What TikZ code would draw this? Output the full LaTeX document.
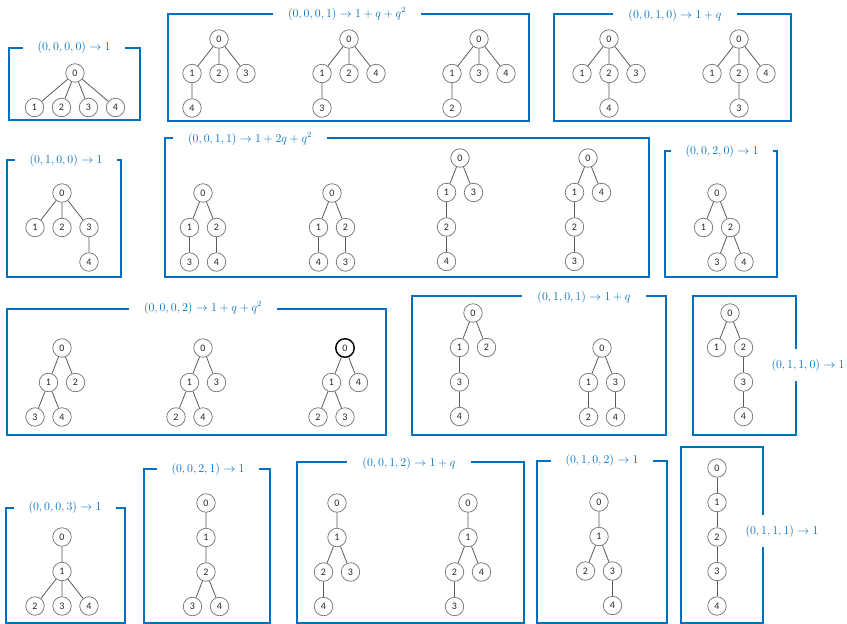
\documentclass[tikz,border=0pt]{standalone}
\usepackage{fontspec}
\setsansfont{Carlito}
\usepackage{tikz}
\usetikzlibrary{positioning}
\definecolor{OfficeBlue}{RGB}{0,112,192}
\tikzset{
  vtx/.style={circle, draw=black!55, line width=0.7pt, minimum size=18.5pt, inner sep=0pt, fill=white,
    font=\sffamily\fontsize{10}{10}\selectfont, text=black!85},
  rootvtx/.style={vtx, draw=black, line width=1.4pt},
  link/.style={draw=black!65, line width=0.8pt},
  grp/.style={draw=OfficeBlue, line width=2.5pt},
  tag/.style={fill=white, text=OfficeBlue, inner xsep=15pt, inner ysep=2pt, font=\fontsize{11.5}{13}\selectfont},
  sidetag/.style={tag, inner xsep=2pt, inner ysep=10pt},
}

\begin{document}
\begin{tikzpicture}[x=1pt, y=-1pt, node distance=34.5pt and 13.5pt, on grid]
\useasboundingbox (0,0) rectangle (847,624);

% frames
\draw[grp] (9,48) rectangle (140,120);
\draw[grp] (168,14) rectangle (529,121);
\draw[grp] (554,14) rectangle (791,121);
\draw[grp] (7,160) rectangle (121,277);
\draw[grp] (165,138) rectangle (649,277);
\draw[grp] (665,151) rectangle (777,277);
\draw[grp] (7,309) rectangle (386,435);
\draw[grp] (412,296) rectangle (666,435);
\draw[grp] (693,296) rectangle (796,435);
\draw[grp] (6,508) rectangle (125,623);
\draw[grp] (144,469) rectangle (270,623);
\draw[grp] (297,462) rectangle (524,623);
\draw[grp] (537,461) rectangle (667,623);
\draw[grp] (681,447) rectangle (763,623);

% labels
\node[tag] (l1) at (74,47) {$(0,0,0,0)\to 1$};
\node[tag] (l2) at (347,14) {$(0,0,0,1)\to 1+q+q^2$};
\node[tag] (l3) at (675,15) {$(0,0,1,0)\to 1+q$};
\node[tag] (l4) at (66,160) {$(0,1,0,0)\to 1$};
\node[tag] (l5) at (250,139) {$(0,0,1,1)\to 1+2q+q^2$};
\node[tag] (l6) at (722,151) {$(0,0,2,0)\to 1$};
\node[tag] (l7) at (203,308) {$(0,0,0,2)\to 1+q+q^2$};
\node[tag] (l8) at (584,297) {$(0,1,0,1)\to 1+q$};
\node[sidetag] (l9) at (808,365) {$(0,1,1,0)\to 1$};
\node[tag] (l10) at (65,507) {$(0,0,0,3)\to 1$};
\node[tag] (l11) at (208,469) {$(0,0,2,1)\to 1$};
\node[tag] (l12) at (409,463) {$(0,0,1,2)\to 1+q$};
\node[tag] (l13) at (602,460) {$(0,1,0,2)\to 1$};
\node[sidetag] (l14) at (782,531) {$(0,1,1,1)\to 1$};

% (0,0,0,0)
\node[vtx] (t1a0) at (75,73) {0};
\node[vtx, below left=34.5pt and 40.5pt of t1a0] (t1a1) {1};
\node[vtx, below left=of t1a0] (t1a2) {2};
\node[vtx, below right=of t1a0] (t1a3) {3};
\node[vtx, below right=34.5pt and 40.5pt of t1a0] (t1a4) {4};
\draw[link] (t1a0) -- (t1a1) (t1a0) -- (t1a2) (t1a0) -- (t1a3) (t1a0) -- (t1a4);

% (0,0,0,1)
\node[vtx] (t2a0) at (219,39) {0};
\node[vtx, below left=34.5pt and 27pt of t2a0] (t2a1) {1};
\node[vtx, below=of t2a0] (t2a2) {2};
\node[vtx, below right=34.5pt and 27pt of t2a0] (t2a3) {3};
\node[vtx, below=of t2a1] (t2a4) {4};
\draw[link] (t2a0) -- (t2a1) (t2a0) -- (t2a2) (t2a0) -- (t2a3) (t2a1) -- (t2a4);

\node[vtx] (t2b0) at (349,39) {0};
\node[vtx, below left=34.5pt and 27pt of t2b0] (t2b1) {1};
\node[vtx, below=of t2b0] (t2b2) {2};
\node[vtx, below right=34.5pt and 27pt of t2b0] (t2b4) {4};
\node[vtx, below=of t2b1] (t2b3) {3};
\draw[link] (t2b0) -- (t2b1) (t2b0) -- (t2b2) (t2b0) -- (t2b4) (t2b1) -- (t2b3);

\node[vtx] (t2c0) at (479,39) {0};
\node[vtx, below left=34.5pt and 27pt of t2c0] (t2c1) {1};
\node[vtx, below=of t2c0] (t2c3) {3};
\node[vtx, below right=34.5pt and 27pt of t2c0] (t2c4) {4};
\node[vtx, below=of t2c1] (t2c2) {2};
\draw[link] (t2c0) -- (t2c1) (t2c0) -- (t2c3) (t2c0) -- (t2c4) (t2c1) -- (t2c2);

% (0,0,1,0)
\node[vtx] (t3a0) at (609,39) {0};
\node[vtx, below left=34.5pt and 27pt of t3a0] (t3a1) {1};
\node[vtx, below=of t3a0] (t3a2) {2};
\node[vtx, below right=34.5pt and 27pt of t3a0] (t3a3) {3};
\node[vtx, below=of t3a2] (t3a4) {4};
\draw[link] (t3a0) -- (t3a1) (t3a0) -- (t3a2) (t3a0) -- (t3a3) (t3a2) -- (t3a4);

\node[vtx] (t3b0) at (739,39) {0};
\node[vtx, below left=34.5pt and 27pt of t3b0] (t3b1) {1};
\node[vtx, below=of t3b0] (t3b2) {2};
\node[vtx, below right=34.5pt and 27pt of t3b0] (t3b4) {4};
\node[vtx, below=of t3b2] (t3b3) {3};
\draw[link] (t3b0) -- (t3b1) (t3b0) -- (t3b2) (t3b0) -- (t3b4) (t3b2) -- (t3b3);

% (0,1,0,0)
\node[vtx] (t4a0) at (62,193) {0};
\node[vtx, below left=34.5pt and 27pt of t4a0] (t4a1) {1};
\node[vtx, below=of t4a0] (t4a2) {2};
\node[vtx, below right=34.5pt and 27pt of t4a0] (t4a3) {3};
\node[vtx, below=of t4a3] (t4a4) {4};
\draw[link] (t4a0) -- (t4a1) (t4a0) -- (t4a2) (t4a0) -- (t4a3) (t4a3) -- (t4a4);

% (0,0,1,1)
\node[vtx] (t5a0) at (203,193) {0};
\node[vtx, below left=of t5a0] (t5a1) {1};
\node[vtx, below right=of t5a0] (t5a2) {2};
\node[vtx, below=of t5a1] (t5a3) {3};
\node[vtx, below=of t5a2] (t5a4) {4};
\draw[link] (t5a0) -- (t5a1) (t5a0) -- (t5a2) (t5a1) -- (t5a3) (t5a2) -- (t5a4);

\node[vtx] (t5b0) at (332,193) {0};
\node[vtx, below left=of t5b0] (t5b1) {1};
\node[vtx, below right=of t5b0] (t5b2) {2};
\node[vtx, below=of t5b1] (t5b4) {4};
\node[vtx, below=of t5b2] (t5b3) {3};
\draw[link] (t5b0) -- (t5b1) (t5b0) -- (t5b2) (t5b1) -- (t5b4) (t5b2) -- (t5b3);

\node[vtx] (t5c0) at (460,158) {0};
\node[vtx, below left=of t5c0] (t5c1) {1};
\node[vtx, below right=of t5c0] (t5c3) {3};
\node[vtx, below=of t5c1] (t5c2) {2};
\node[vtx, below=of t5c2] (t5c4) {4};
\draw[link] (t5c0) -- (t5c1) (t5c0) -- (t5c3) (t5c1) -- (t5c2) (t5c2) -- (t5c4);

\node[vtx] (t5d0) at (588,158) {0};
\node[vtx, below left=of t5d0] (t5d1) {1};
\node[vtx, below right=of t5d0] (t5d4) {4};
\node[vtx, below=of t5d1] (t5d2) {2};
\node[vtx, below=of t5d2] (t5d3) {3};
\draw[link] (t5d0) -- (t5d1) (t5d0) -- (t5d4) (t5d1) -- (t5d2) (t5d2) -- (t5d3);

% (0,0,2,0)
\node[vtx] (t6a0) at (717,193) {0};
\node[vtx, below left=of t6a0] (t6a1) {1};
\node[vtx, below right=of t6a0] (t6a2) {2};
\node[vtx, below left=of t6a2] (t6a3) {3};
\node[vtx, below right=of t6a2] (t6a4) {4};
\draw[link] (t6a0) -- (t6a1) (t6a0) -- (t6a2) (t6a2) -- (t6a3) (t6a2) -- (t6a4);

% (0,0,0,2)
\node[vtx] (t7a0) at (62,348) {0};
\node[vtx, below left=of t7a0] (t7a1) {1};
\node[vtx, below right=of t7a0] (t7a2) {2};
\node[vtx, below left=of t7a1] (t7a3) {3};
\node[vtx, below right=of t7a1] (t7a4) {4};
\draw[link] (t7a0) -- (t7a1) (t7a0) -- (t7a2) (t7a1) -- (t7a3) (t7a1) -- (t7a4);

\node[vtx] (t7b0) at (203,348) {0};
\node[vtx, below left=of t7b0] (t7b1) {1};
\node[vtx, below right=of t7b0] (t7b3) {3};
\node[vtx, below left=of t7b1] (t7b2) {2};
\node[vtx, below right=of t7b1] (t7b4) {4};
\draw[link] (t7b0) -- (t7b1) (t7b0) -- (t7b3) (t7b1) -- (t7b2) (t7b1) -- (t7b4);

\node[rootvtx] (t7c0) at (345,348) {0};
\node[vtx, below left=of t7c0] (t7c1) {1};
\node[vtx, below right=of t7c0] (t7c4) {4};
\node[vtx, below left=of t7c1] (t7c2) {2};
\node[vtx, below right=of t7c1] (t7c3) {3};
\draw[link] (t7c0) -- (t7c1) (t7c0) -- (t7c4) (t7c1) -- (t7c2) (t7c1) -- (t7c3);

% (0,1,0,1)
\node[vtx] (t8a0) at (473,313) {0};
\node[vtx, below left=of t8a0] (t8a1) {1};
\node[vtx, below right=of t8a0] (t8a2) {2};
\node[vtx, below=of t8a1] (t8a3) {3};
\node[vtx, below=of t8a3] (t8a4) {4};
\draw[link] (t8a0) -- (t8a1) (t8a0) -- (t8a2) (t8a1) -- (t8a3) (t8a3) -- (t8a4);

\node[vtx] (t8b0) at (602,348) {0};
\node[vtx, below left=of t8b0] (t8b1) {1};
\node[vtx, below right=of t8b0] (t8b3) {3};
\node[vtx, below=of t8b1] (t8b2) {2};
\node[vtx, below=of t8b3] (t8b4) {4};
\draw[link] (t8b0) -- (t8b1) (t8b0) -- (t8b3) (t8b1) -- (t8b2) (t8b3) -- (t8b4);

% (0,1,1,0)
\node[vtx] (t9a0) at (730,313) {0};
\node[vtx, below left=of t9a0] (t9a1) {1};
\node[vtx, below right=of t9a0] (t9a2) {2};
\node[vtx, below=of t9a2] (t9a3) {3};
\node[vtx, below=of t9a3] (t9a4) {4};
\draw[link] (t9a0) -- (t9a1) (t9a0) -- (t9a2) (t9a2) -- (t9a3) (t9a3) -- (t9a4);

% (0,0,0,3)
\node[vtx] (t10a0) at (62,537) {0};
\node[vtx, below=of t10a0] (t10a1) {1};
\node[vtx, below left=34.5pt and 27pt of t10a1] (t10a2) {2};
\node[vtx, below=of t10a1] (t10a3) {3};
\node[vtx, below right=34.5pt and 27pt of t10a1] (t10a4) {4};
\draw[link] (t10a0) -- (t10a1) (t10a1) -- (t10a2) (t10a1) -- (t10a3) (t10a1) -- (t10a4);

% (0,0,2,1)
\node[vtx] (t11a0) at (206,503) {0};
\node[vtx, below=of t11a0] (t11a1) {1};
\node[vtx, below=of t11a1] (t11a2) {2};
\node[vtx, below left=of t11a2] (t11a3) {3};
\node[vtx, below right=of t11a2] (t11a4) {4};
\draw[link] (t11a0) -- (t11a1) (t11a1) -- (t11a2) (t11a2) -- (t11a3) (t11a2) -- (t11a4);

% (0,0,1,2)
\node[vtx] (t12a0) at (337,503) {0};
\node[vtx, below=of t12a0] (t12a1) {1};
\node[vtx, below left=of t12a1] (t12a2) {2};
\node[vtx, below right=of t12a1] (t12a3) {3};
\node[vtx, below=of t12a2] (t12a4) {4};
\draw[link] (t12a0) -- (t12a1) (t12a1) -- (t12a2) (t12a1) -- (t12a3) (t12a2) -- (t12a4);

\node[vtx] (t12b0) at (468,503) {0};
\node[vtx, below=of t12b0] (t12b1) {1};
\node[vtx, below left=of t12b1] (t12b2) {2};
\node[vtx, below right=of t12b1] (t12b4) {4};
\node[vtx, below=of t12b2] (t12b3) {3};
\draw[link] (t12b0) -- (t12b1) (t12b1) -- (t12b2) (t12b1) -- (t12b4) (t12b2) -- (t12b3);

% (0,1,0,2)
\node[vtx] (t13a0) at (599,502) {0};
\node[vtx, below=of t13a0] (t13a1) {1};
\node[vtx, below left=of t13a1] (t13a2) {2};
\node[vtx, below right=of t13a1] (t13a3) {3};
\node[vtx, below=of t13a3] (t13a4) {4};
\draw[link] (t13a0) -- (t13a1) (t13a1) -- (t13a2) (t13a1) -- (t13a3) (t13a3) -- (t13a4);

% (0,1,1,1)
\node[vtx] (t14a0) at (717,468) {0};
\node[vtx, below=of t14a0] (t14a1) {1};
\node[vtx, below=of t14a1] (t14a2) {2};
\node[vtx, below=of t14a2] (t14a3) {3};
\node[vtx, below=of t14a3] (t14a4) {4};
\draw[link] (t14a0) -- (t14a1) (t14a1) -- (t14a2) (t14a2) -- (t14a3) (t14a3) -- (t14a4);
\end{tikzpicture}
\end{document}
